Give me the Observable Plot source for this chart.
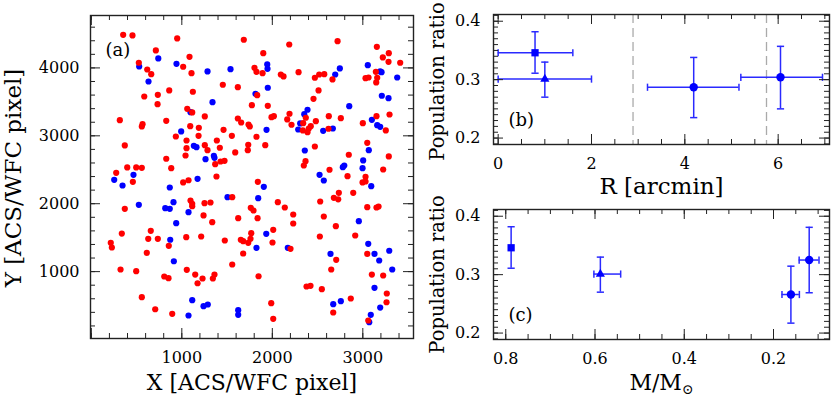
<!DOCTYPE html>
<html><head><meta charset="utf-8">
<script src="https://cdn.jsdelivr.net/npm/d3@7"></script>
<script src="https://cdn.jsdelivr.net/npm/@observablehq/plot@0.6"></script>
<style>
html,body{margin:0;padding:0;background:#fff;}
#fig{position:relative;width:831px;height:398px;overflow:hidden;background:#fff;}
#fig svg{position:absolute;overflow:visible;font-family:"DejaVu Serif",serif;}
#fig svg text{font-family:"DejaVu Serif",serif !important;}
</style></head><body><div id="fig"></div>
<script>
// ---------- Panel (a): positions of stars on the ACS/WFC chip ----------
const redStars = [
[352,4488],[455,4478],[949,4434],[1685,4415],[713,4257],[1900,4217],[525,4076],[1085,4164],[1015,4017],[618,3977],
[662,3908],[1107,3923],[1803,4002],[1825,3943],[1892,3923],[2094,3903],[1453,3752],[1619,3716],[861,3668],[735,3604],
[585,3579],[1122,3649],[1833,3599],[732,3466],[1774,3451],[1950,3442],[1060,3398],[1115,3344],[1254,3285],[828,3221],
[315,3230],[1619,3255],[1656,3196],[1991,3274],[2017,3289],[566,3171],[558,3137],[1093,3142],[1188,3118],[1737,3167],
[1751,3137],[1461,3089],[934,2990],[1185,3000],[1553,3000],[1825,2986],[1052,2931],[1387,2931],[370,2858],[1254,2862],
[1284,2788],[1052,2818],[1420,2824],[1734,2868],[1729,2788],[1922,2862],[1590,2755],[1041,2710],[828,2662],[1369,2582],
[1428,2622],[1472,2632],[883,2523],[275,2455],[397,2534],[496,2534],[558,2529],[459,2323],[1015,2313],[1074,2346],
[1383,2401],[1840,2323],[1557,2096],
[370,1925],[1096,2047],[1115,1999],[1115,1963],[1251,2008],[1317,2018],[1240,1827],[1762,1940],[1792,1900],[2061,2022],
[1623,1787],[1837,1787],[1336,1728],[337,1561],[657,1601],[629,1483],[735,1483],[1049,1507],[1214,1517],[1475,1458],
[1652,1469],[1678,1448],[1734,1424],[1759,1483],[1767,1566],[2010,1616],[2002,1429],[215,1424],[227,1355],[856,1380],
[613,1277],[1678,1267],[1557,1105],[323,1031],[496,1006],[1055,1027],[1148,957],[1361,957],[1343,899],[806,928],
[853,903],[1229,899],[1174,829],[1848,932],[558,623],[706,446],[894,379],[1988,535],[2010,305],
[2187,4345],[2721,4394],[3155,4311],[3287,4217],[3221,4154],[3284,4090],[3413,4076],[3144,3943],[3159,3855],[3148,3786],
[3030,3849],[3063,3859],[2665,3830],[2574,3908],[2518,3903],[2470,3855],[2290,3937],[2124,3874],[2511,3668],[2455,3545],
[2190,3325],[2370,3266],[2165,3241],[2624,3289],[2757,3260],[2481,3216],[2341,3186],[2212,3163],[2425,3142],[2403,3108],
[2337,3079],[2389,3054],[2621,3104],[3151,3289],[3295,3314],[3000,3186],[3254,3079],[3049,2897],[2470,2843],[2845,2721],
[3287,2696],[2367,2626],[2348,2563],[2632,2500],[3225,2504],[2831,2405],[3030,2397],[3030,2327],[2997,2313],[2735,2161],
[2894,2161],[2680,2087],[2728,2065],
[2529,2033],[2138,1944],[2231,1841],[2231,1709],[3049,1949],[3151,1944],[3174,1959],[2569,1812],[2702,1669],[2525,1517],
[2916,1532],[2201,1336],[3049,1262],[2706,1174],[2651,1031],[3100,957],[3225,943],[2378,781],[2422,791],[2547,741],
[3265,678],[3262,549],[2867,604],[2673,398],[3060,280]
];
const blueStars = [
[740,4140],[529,4021],[941,4061],[632,3800],[1284,3948],[1538,3982],[1944,4051],[1947,3987],[1950,3708],[1814,3619],
[1339,3495],[1096,3348],[1936,3089],[993,3064],[1133,2853],[1162,2833],[1354,2706],[1361,2676],[1262,2656],[466,2426],
[253,2352],[345,2268],[867,2239],[1174,2367],[1906,2249],[1505,2096],[1844,2081],
[525,1984],[817,1934],[867,1925],[908,2022],[1074,1875],[938,1713],[872,1469],[1933,1557],[1825,1351],[912,1153],
[1115,579],[1240,491],[1287,516],[1623,432],[1623,364],[1074,354],
[3055,4040],[3192,3948],[3207,3937],[3380,3859],[2746,3992],[2695,3903],[3210,3590],[3284,3554],[2850,3437],[2389,3384],
[2353,3319],[2308,3182],[2286,3093],[2562,3074],[2669,3108],[3100,3236],[3159,3157],[3192,3133],[2359,2784],[3066,2788],
[2795,2563],[2779,2538],[3004,2637],[2997,2523],[2522,2426],[2569,2342],[3093,2258],
[2956,1743],[3060,1410],[2171,1351],[2643,1262],[3129,1262],[3292,1307],[3181,1164],[3325,1031],[3129,762],[2757,564],
[2673,520],[3192,471],[3088,364],[3071,255]
];
const aXTickLabels = [1000, 2000, 3000];
const aYTickLabels = [1000, 2000, 3000, 4000];
const aXTitle = "X [ACS/WFC pixel]";
const aYTitle = "Y [ACS/WFC pixel]";

// ---------- Panel (b): population ratio vs radius ----------
const bRadius   = [0.79, 1.0, 4.19, 6.05];
const bRadiusLo = [0.0, 0.0, 3.2, 5.2];
const bRadiusHi = [1.6, 2.0, 5.16, 6.95];
const bRatio    = [0.346, 0.301, 0.287, 0.304];
const bRatioLo  = [0.311, 0.270, 0.235, 0.250];
const bRatioHi  = [0.382, 0.330, 0.338, 0.357];
const bSymbol   = ["square", "triangle", "circle", "circle"];
const bBoundaries = [2.89, 5.75];
const bXTickLabels = [0, 2, 4, 6];
const bYTickLabels = [0.2, 0.3, 0.4];
const bXTitle = "R [arcmin]";
const ratioTitle = "Population ratio";

// ---------- Panel (c): population ratio vs mass ----------
const cMass     = [0.788, 0.588, 0.161, 0.120];
const cMassLo   = [null, 0.5425, 0.142, 0.098];
const cMassHi   = [null, 0.6025, 0.181, 0.1425];
const cRatio    = [0.346, 0.301, 0.266, 0.325];
const cRatioLo  = [0.311, 0.270, 0.217, 0.269];
const cRatioHi  = [0.382, 0.330, 0.3145, 0.381];
const cSymbol   = ["square", "triangle", "circle", "circle"];
const cXTickLabels = [0.8, 0.6, 0.4, 0.2];
const cXTitle = "M/M\u2299";

// ---------- helpers ----------
const FONT = "'DejaVu Serif', serif";
const INK = "#222";
const BLUE = "#0000ff";
const BAR = "#2a2aff";
const fig = document.getElementById("fig");
function place(svg, left, top) { svg.style.left = left + "px"; svg.style.top = top + "px"; fig.appendChild(svg); }

function frameTicks(xMajor, xMinor, yMajor, yMinor, fw, fh, big = 10, small = 5) {
  const s = {stroke: INK, strokeWidth: 1};
  return [
    Plot.tickX(xMinor, {x: d => d, insetTop: fh - small, ...s}),
    Plot.tickX(xMinor, {x: d => d, insetBottom: fh - small, ...s}),
    Plot.tickX(xMajor, {x: d => d, insetTop: fh - big, ...s}),
    Plot.tickX(xMajor, {x: d => d, insetBottom: fh - big, ...s}),
    Plot.tickY(yMinor, {y: d => d, insetRight: fw - small, ...s}),
    Plot.tickY(yMinor, {y: d => d, insetLeft: fw - small, ...s}),
    Plot.tickY(yMajor, {y: d => d, insetRight: fw - big, ...s}),
    Plot.tickY(yMajor, {y: d => d, insetLeft: fw - big, ...s})
  ];
}
const vCap = {draw(ctx, size) { const r = Math.sqrt(size / Math.PI); ctx.moveTo(0, -r); ctx.lineTo(0, r); }};
const hCap = {draw(ctx, size) { const r = Math.sqrt(size / Math.PI); ctx.moveTo(-r, 0); ctx.lineTo(r, 0); }};

function errorMarks(rows) {
  const withX = rows.filter(d => d.xlo != null);
  return [
    Plot.ruleY(withX, {y: "y", x1: "xlo", x2: "xhi", stroke: BAR, strokeWidth: 1.5}),
    Plot.ruleX(rows, {x: "x", y1: "ylo", y2: "yhi", stroke: BAR, strokeWidth: 1.5}),
    Plot.dot(withX, {x: "xlo", y: "y", symbol: vCap, r: 3.6, stroke: BAR, fill: "none", strokeWidth: 1.5}),
    Plot.dot(withX, {x: "xhi", y: "y", symbol: vCap, r: 3.6, stroke: BAR, fill: "none", strokeWidth: 1.5}),
    Plot.dot(rows, {x: "x", y: "ylo", symbol: hCap, r: 3.6, stroke: BAR, fill: "none", strokeWidth: 1.5}),
    Plot.dot(rows, {x: "x", y: "yhi", symbol: hCap, r: 3.6, stroke: BAR, fill: "none", strokeWidth: 1.5}),
    Plot.dot(rows.filter(d => d.sym === "square"), {x: "x", y: "y", symbol: "square", r: 4.1, fill: BLUE, stroke: "none"}),
    Plot.dot(rows.filter(d => d.sym === "triangle"), {x: "x", y: "y", symbol: "triangle", r: 3.4, fill: BLUE, stroke: "none"}),
    Plot.dot(rows.filter(d => d.sym === "circle"), {x: "x", y: "y", r: 4.2, fill: BLUE, stroke: "none"})
  ];
}
const baseStyle = {fontFamily: FONT, fontSize: "16px", color: "#000", background: "none", overflow: "visible"};

// ---------- Panel (a) ----------
const svgA = Plot.plot({
  width: 420, height: 398, marginLeft: 90, marginRight: 7, marginTop: 15, marginBottom: 60,
  style: baseStyle,
  x: {domain: [-9, 3560], ticks: aXTickLabels, tickSize: 0, tickPadding: 13, tickFormat: d => String(d), label: null},
  y: {domain: [15, 4772], ticks: aYTickLabels, tickSize: 0, tickPadding: 11, tickFormat: d => String(d), label: null},
  marks: [
    Plot.dot(blueStars, {x: d => d[0], y: d => d[1], r: 3.1, fill: BLUE, stroke: "none"}),
    Plot.dot(redStars, {x: d => d[0], y: d => d[1], r: 3.1, fill: "#ff0000", stroke: "none"}),
    ...frameTicks([0, 1000, 2000, 3000], d3.range(0, 3560, 200), [1000, 2000, 3000, 4000], d3.range(200, 4772, 200), 323, 323),
    Plot.frame({stroke: INK, strokeWidth: 1.4}),
    Plot.text(["(a)"], {frameAnchor: "top-left", text: d => d, dx: 15, dy: 35, fontSize: 18, fontFamily: FONT, textAnchor: "start", lineAnchor: "middle"}),
    Plot.text([aXTitle], {frameAnchor: "bottom", text: d => d, dy: 44, fontSize: 22, fontFamily: FONT, textAnchor: "middle", lineAnchor: "middle"}),
    Plot.text([aYTitle], {frameAnchor: "left", text: d => d, dx: -77, dy: 1, rotate: -90, fontSize: 23, fontFamily: FONT, textAnchor: "middle", lineAnchor: "middle"})
  ]
});
place(svgA, 0, 0);

// ---------- Panel (b) ----------
const bRows = bRadius.map((x, i) => ({x, xlo: bRadiusLo[i], xhi: bRadiusHi[i], y: bRatio[i], ylo: bRatioLo[i], yhi: bRatioHi[i], sym: bSymbol[i]}));
const svgB = Plot.plot({
  width: 411, height: 195, marginLeft: 73, marginRight: 2, marginTop: 14, marginBottom: 51,
  style: baseStyle,
  x: {domain: [-0.1, 7.1], ticks: bXTickLabels, tickSize: 0, tickPadding: 13, tickFormat: d => String(d), label: null},
  y: {domain: [0.189, 0.4115], ticks: bYTickLabels, tickSize: 0, tickPadding: 13, tickFormat: d => d.toFixed(1), label: null},
  marks: [
    Plot.ruleX(bBoundaries, {x: d => d, stroke: "#aaa", strokeWidth: 1.3, strokeDasharray: "9,5"}),
    ...errorMarks(bRows),
    ...frameTicks([0, 2, 4, 6], d3.range(0, 15).map(k => k * 0.5), bYTickLabels, d3.range(19, 42).map(k => k / 100), 336, 130),
    Plot.frame({stroke: INK, strokeWidth: 1.4}),
    Plot.text(["(b)"], {frameAnchor: "bottom-left", text: d => d, dx: 15, dy: -24, fontSize: 18, fontFamily: FONT, textAnchor: "start", lineAnchor: "middle"}),
    Plot.text([bXTitle], {frameAnchor: "bottom", text: d => d, dy: 42, fontSize: 23, fontFamily: FONT, textAnchor: "middle", lineAnchor: "middle"}),
    Plot.text([ratioTitle], {frameAnchor: "left", text: d => d, dx: -56, dy: 2, rotate: -90, fontSize: 19.5, fontFamily: FONT, textAnchor: "middle", lineAnchor: "middle"})
  ]
});
place(svgB, 420, 0);

// ---------- Panel (c) ----------
const cRows = cMass.map((x, i) => ({x, xlo: cMassLo[i], xhi: cMassHi[i], y: cRatio[i], ylo: cRatioLo[i], yhi: cRatioHi[i], sym: cSymbol[i]}));
const svgC = Plot.plot({
  width: 411, height: 203, marginLeft: 73, marginRight: 2, marginTop: 14, marginBottom: 59,
  style: baseStyle,
  x: {domain: [0.8275, 0.0745], ticks: cXTickLabels, tickSize: 0, tickPadding: 13, tickFormat: d => d.toFixed(1), label: null},
  y: {domain: [0.189, 0.4115], ticks: bYTickLabels, tickSize: 0, tickPadding: 13, tickFormat: d => d.toFixed(1), label: null},
  marks: [
    ...errorMarks(cRows),
    ...frameTicks(cXTickLabels, d3.range(2, 17).map(k => k * 0.05), bYTickLabels, d3.range(19, 42).map(k => k / 100), 336, 130),
    Plot.frame({stroke: INK, strokeWidth: 1.4}),
    Plot.text(["(c)"], {frameAnchor: "bottom-left", text: d => d, dx: 15, dy: -24, fontSize: 18, fontFamily: FONT, textAnchor: "start", lineAnchor: "middle"}),
    Plot.text([cXTitle], {frameAnchor: "bottom", text: d => d, dy: 43, fontSize: 22, fontFamily: FONT, textAnchor: "middle", lineAnchor: "middle"}),
    Plot.text([ratioTitle], {frameAnchor: "left", text: d => d, dx: -56, rotate: -90, fontSize: 19.5, fontFamily: FONT, textAnchor: "middle", lineAnchor: "middle"})
  ]
});
d3.select(svgC).selectAll("text").filter(function () { return this.textContent === cXTitle; }).each(function () {
  const t = d3.select(this);
  t.text("M/M");
  t.append("tspan").attr("font-size", 14).attr("dy", "0.3em").text("\u2299");
});
place(svgC, 420, 195);
</script>
</body></html>
